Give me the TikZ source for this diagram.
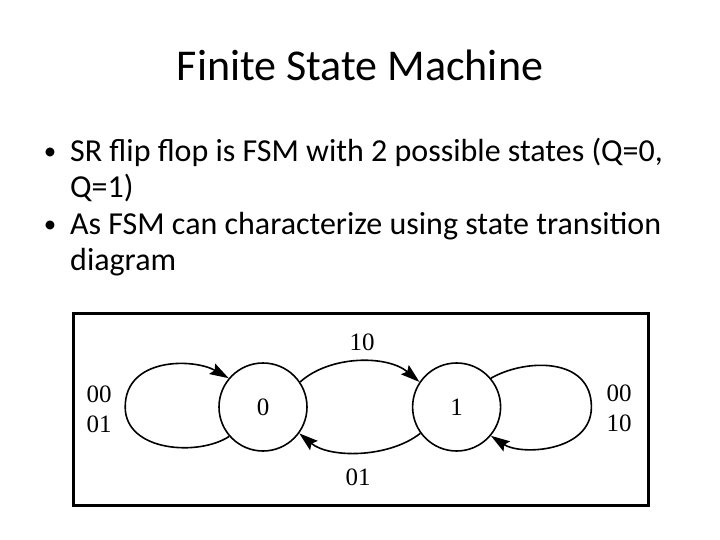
\documentclass[tikz,border=0pt]{standalone}
\usepackage{fontspec}
\setmainfont{Carlito}
\newfontfamily\diagfont{Liberation Serif}
\usepackage{tikz}
\usetikzlibrary{arrows.meta,positioning}

\begin{document}
\begin{tikzpicture}[x=1pt, y=-1pt, >={Stealth[length=19pt,width=12pt,inset=3pt]},
    state/.style={circle, draw, line width=1.6pt, minimum size=88pt, inner sep=0pt, font=\diagfont\fontsize{25}{25}\selectfont},
    trans/.style={->, line width=1.6pt},
    lbl/.style={inner sep=0pt, align=center, font=\diagfont\fontsize{25}{30}\selectfont},
    txt/.style={anchor=base west, inner sep=0pt, font=\fontsize{32}{38}\selectfont},
    dot/.style={anchor=base, inner sep=0pt, font=\fontsize{25}{30}\selectfont}]
    \useasboundingbox (0,0) rectangle (720,540);

    % Titolo
    \node[inner sep=0pt, anchor=base, font=\fontsize{44}{52}\selectfont] (title) at (360,81) {Finite State Machine};

    % Elenco puntato
    \node[dot] (dot1) at (50,160) {•};
    \node[txt] (line1) at (70,162) {SR flip flop is FSM with 2 possible states (Q=0,};
    \node[txt] (line2) at (70,197) {Q=1)};
    \node[dot] (dot2) at (50,233) {•};
    \node[txt] (line3) at (70,235) {As FSM can characterize using state transition};
    \node[txt] (line4) at (70,270) {diagram};

    % Riquadro
    \draw[line width=3pt] (73,313) rectangle (648,505);

    % Stati
    \node[state] (s0) at (263,407) {0};
    \node[state, right=104pt of s0] (s1) {1};
    \coordinate[left=93pt of s0] (w0);
    \coordinate[right=90pt of s1] (e1);

    % Transizioni
    \draw[trans] (s0.34) .. controls +(30,-27) and +(-32,-27) .. (s1.146);
    \draw[trans] (s1.216) .. controls +(-32,25) and +(30,25) .. (s0.324);
    % Anelli
    \draw[trans] (s0.221) .. controls +(-30,20) and +(0,45) .. (w0)
        .. controls +(0,-50) and +(-35,-20) .. (s0.140);
    \draw[trans] (s1.40) .. controls +(35,-20) and +(0,-50) .. (e1)
        .. controls +(0,45) and +(30,20) .. (s1.320);

    % Etichette
    \node[lbl] (in10) at (362,342) {10};
    \node[lbl] (in01) at (358,477) {01};
    \node[lbl] (stay0) at (99,409) {00\\01};
    \node[lbl] (stay1) at (619,408) {00\\10};
\end{tikzpicture}
\end{document}
